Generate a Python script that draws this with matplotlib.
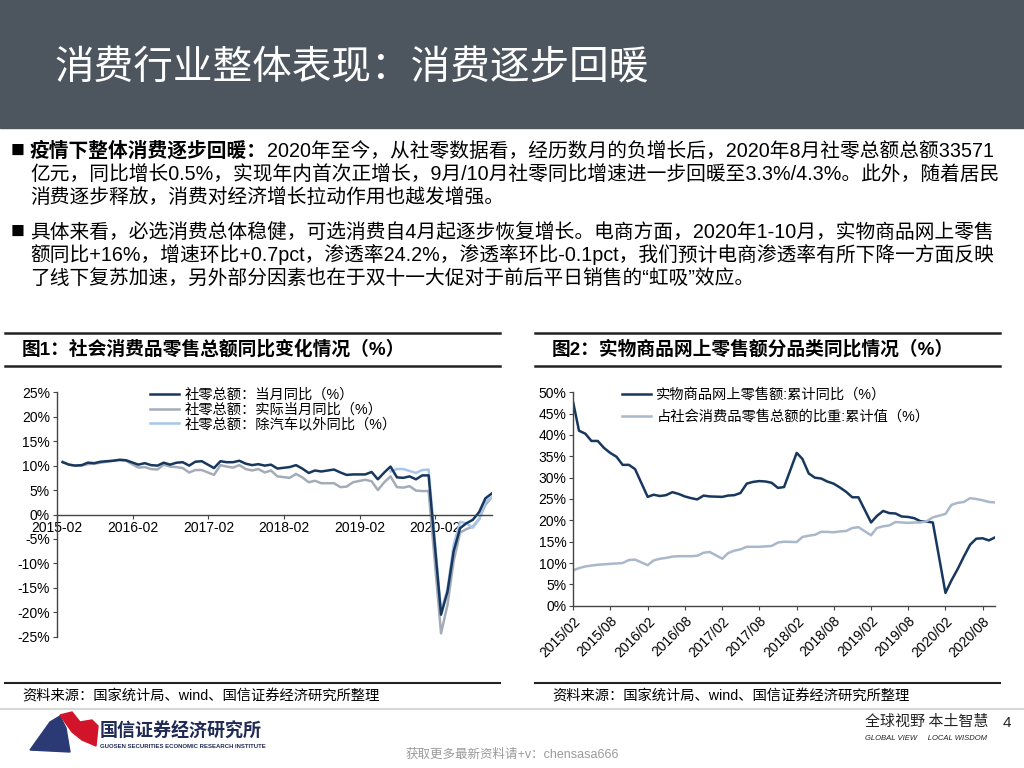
import numpy as np
import pandas as pd
import matplotlib
matplotlib.use('Agg')
import matplotlib.pyplot as plt
from matplotlib.patches import Rectangle, Polygon
from matplotlib.lines import Line2D
from matplotlib.ticker import FuncFormatter

plt.rcParams['font.family'] = ['Liberation Sans', 'Noto Sans CJK SC']
plt.rcParams['axes.unicode_minus'] = False

# ---- data (monthly, January not published) ----
months = [f'{y}-{m:02d}' for y in range(2015, 2020) for m in range(2, 13)] + \
         [f'2020-{m:02d}' for m in range(2, 11)]

retail_nominal = [10.7, 10.2, 10.0, 10.1, 10.6, 10.5, 10.8, 10.9, 11.0, 11.2, 11.1,
                  10.2, 10.5, 10.1, 10.0, 10.6, 10.2, 10.6, 10.7, 10.0, 10.8, 10.9,
                  9.5, 10.9, 10.7, 10.7, 11.0, 10.4, 10.1, 10.3, 10.0, 10.2, 9.4,
                  9.7, 10.1, 9.4, 8.5, 9.0, 8.8, 9.0, 9.2, 8.6, 8.1, 8.2,
                  8.2, 8.7, 7.2, 8.6, 9.8, 7.6, 7.5, 7.8, 7.2, 8.0, 8.0,
                  -20.5, -15.8, -7.5, -2.8, -1.8, -1.1, 0.5, 3.3, 4.3]
retail_real = [10.8, 10.2, 10.0, 10.0, 10.3, 10.4, 10.6, 10.8, 11.0, 11.1, 11.0,
               9.6, 9.7, 9.3, 9.2, 10.2, 9.8, 9.7, 9.5, 8.6, 9.1, 9.1,
               8.1, 10.1, 9.8, 9.6, 10.1, 9.3, 9.0, 9.3, 8.6, 9.0, 7.8,
               7.5, 8.3, 7.6, 6.6, 6.9, 6.4, 6.4, 6.4, 5.6, 5.7, 6.6,
               7.1, 6.8, 5.0, 6.6, 7.8, 5.6, 5.5, 5.8, 4.9, 4.8, 4.8,
               -24.3, -18.5, -9.5, -3.7, -3.0, -2.5, -0.9, 2.0, 3.5]
retail_ex_auto = [None] * 48 + \
                 [8.8, 9.3, 9.3, 8.9, 8.5, 9.1, 9.2,
                  -19.8, -15.3, -6.2, -1.5, -1.8, -2.7, -1.0, 2.6, 3.5]

online_yoy = [47.5, 41.0, 40.3, 38.6, 38.6, 37.0, 35.8, 34.9, 33.0, 33.0, 32.0,
              25.5, 26.0, 25.7, 25.9, 26.6, 26.2, 25.6, 25.2, 24.9, 25.8, 25.6,
              25.5, 25.8, 25.9, 26.4, 28.6, 29.0, 29.2, 29.1, 28.8, 27.6, 27.8,
              35.8, 34.4, 31.0, 30.0, 29.8, 29.1, 28.6, 27.7, 26.7, 25.4, 25.4,
              19.5, 21.0, 22.2, 21.7, 21.6, 20.9, 20.8, 20.5, 19.8, 19.7, 19.5,
              3.0, 5.9, 8.6, 11.5, 14.3, 15.7, 15.8, 15.3, 16.0]
online_share = [8.3, 8.8, 9.2, 9.4, 9.6, 9.7, 9.8, 9.9, 10.0, 10.7, 10.8,
                9.5, 10.6, 11.0, 11.2, 11.5, 11.6, 11.6, 11.6, 11.7, 12.4, 12.6,
                11.0, 12.3, 12.9, 13.2, 13.8, 13.8, 13.8, 13.9, 14.0, 14.8, 15.0,
                14.9, 16.1, 16.4, 16.6, 17.3, 17.3, 17.2, 17.4, 17.5, 18.2, 18.4,
                16.5, 18.2, 18.6, 18.8, 19.6, 19.5, 19.4, 19.5, 19.5, 19.8, 20.7,
                21.5, 23.6, 24.1, 24.3, 25.2, 25.0, 24.7, 24.3, 24.2]

left_labels = ['社零总额：当月同比（%）', '社零总额：实际当月同比（%）', '社零总额：除汽车以外同比（%）']
right_labels = ['实物商品网上零售额:累计同比（%）', '占社会消费品零售总额的比重:累计值（%）']

title = '消费行业整体表现：消费逐步回暖'
fig1_title = '图1：社会消费品零售总额同比变化情况（%）'
fig2_title = '图2：实物商品网上零售额分品类同比情况（%）'
source = '资料来源：国家统计局、wind、国信证券经济研究所整理'

dark = '#17375e'
gray = '#a3acb8'
light = '#a6c6ea'
share_col = '#a9b8ca'

W, H = 1024, 768
def fx(px):
    return px / W
def fy(py):
    return 1 - py / H

fig = plt.figure(figsize=(10.24, 7.68), dpi=100)
cjk = ['Liberation Sans', 'Noto Sans CJK SC']
body = 14.2

# header band
fig.patches.append(Rectangle((0, fy(128)), 1, 128 / H, transform=fig.transFigure,
                             color='#4d565e', zorder=0))
fig.text(fx(55), fy(68), title, color='white', fontsize=28.5, va='center',
         family=['Noto Sans CJK SC'])

# bullet paragraphs
r = fig.canvas.get_renderer()
fig.text(fx(11), fy(151), '■', fontsize=10, va='center', family=['Noto Sans CJK SC'])
tb = fig.text(fx(30), fy(151), '疫情下整体消费逐步回暖：', fontsize=body, va='center',
              fontweight='bold', family=cjk)
x1 = tb.get_window_extent(r).x1 / W
fig.text(x1, fy(151), '2020年至今，从社零数据看，经历数月的负增长后，2020年8月社零总额总额33571',
         fontsize=body, va='center', family=cjk)
fig.text(fx(30), fy(174), '亿元，同比增长0.5%，实现年内首次正增长，9月/10月社零同比增速进一步回暖至3.3%/4.3%。此外，随着居民',
         fontsize=body, va='center', family=cjk)
fig.text(fx(30), fy(197), '消费逐步释放，消费对经济增长拉动作用也越发增强。',
         fontsize=body, va='center', family=cjk)
fig.text(fx(11), fy(232), '■', fontsize=10, va='center', family=['Noto Sans CJK SC'])
fig.text(fx(30), fy(232), '具体来看，必选消费总体稳健，可选消费自4月起逐步恢复增长。电商方面，2020年1-10月，实物商品网上零售',
         fontsize=body, va='center', family=cjk)
fig.text(fx(30), fy(255), '额同比+16%，增速环比+0.7pct，渗透率24.2%，渗透率环比-0.1pct，我们预计电商渗透率有所下降一方面反映',
         fontsize=body, va='center', family=cjk)
fig.text(fx(30), fy(278), '了线下复苏加速，另外部分因素也在于双十一大促对于前后平日销售的“虹吸”效应。',
         fontsize=body, va='center', family=cjk)

# chart title bars and source bars
for x0, x1_, t in [(5, 500, fig1_title), (535, 1000, fig2_title)]:
    for yy in (333, 366):
        fig.add_artist(Line2D([fx(x0), fx(x1_)], [fy(yy), fy(yy)], color='#222222', lw=1.8,
                              transform=fig.transFigure))
    fig.add_artist(Line2D([fx(x0), fx(x1_)], [fy(683), fy(683)], color='#222222', lw=1.5,
                          transform=fig.transFigure))
    fig.text(fx(x0 + 17), fy(349.5), t, fontsize=13.5, fontweight='bold', va='center', family=cjk)
    fig.text(fx(x0 + 17), fy(697), source, fontsize=10.3, va='center', family=cjk)
fig.add_artist(Line2D([0, 1], [fy(709), fy(709)], color='#d8d8d8', lw=1.5,
                      transform=fig.transFigure))

# ---- left chart ----
dates_l = pd.to_datetime(months) + pd.offsets.MonthEnd(0)
ax1 = fig.add_axes([fx(57), fy(636.7), fx(492) - fx(57), (636.7 - 392.3) / H])
l2, = ax1.plot(dates_l, retail_real, color=gray, lw=1.8)
l3, = ax1.plot(dates_l, np.array(retail_ex_auto, dtype=float), color=light, lw=1.8)
l1, = ax1.plot(dates_l, retail_nominal, color=dark, lw=1.8)
ax1.set_ylim(-25, 25)
ax1.set_yticks(range(-25, 30, 5))
ax1.yaxis.set_major_formatter(FuncFormatter(lambda v, p: f'{v:.0f}%'))
ax1.set_xlim(pd.Timestamp('2015-02-01'), pd.Timestamp('2020-11-01'))
xt1 = pd.date_range('2015-02-01', '2020-02-01', freq='12MS')
ax1.set_xticks(xt1)
ax1.set_xticklabels([d.strftime('%Y-%m') for d in xt1])
ax1.spines['bottom'].set_position(('data', 0))
ax1.spines[['top', 'right']].set_visible(False)
for s in ('left', 'bottom'):
    ax1.spines[s].set_color('#444444')
    ax1.spines[s].set_linewidth(1.0)
ax1.tick_params(axis='both', labelsize=10, length=3, width=0.8, color='#444444', pad=2)
ax1.patch.set_alpha(0)
ax1.legend([l1, l2, l3], left_labels, loc='upper left', frameon=False,
           bbox_to_anchor=(fx(150), fy(388)), bbox_transform=fig.transFigure,
           prop={'family': cjk, 'size': 10.3}, handlelength=2.0, handletextpad=0.4,
           labelspacing=0.05, borderpad=0, borderaxespad=0)

# ---- right chart ----
dates_r = pd.to_datetime(months)
ax2 = fig.add_axes([fx(573.3), fy(605.7), (995 - 573.3) / W, (605.7 - 392.3) / H])
r1, = ax2.plot(dates_r, online_yoy, color=dark, lw=1.8)
r2, = ax2.plot(dates_r, online_share, color=share_col, lw=1.8)
ax2.set_ylim(0, 50)
ax2.set_yticks(range(0, 55, 5))
ax2.yaxis.set_major_formatter(FuncFormatter(lambda v, p: f'{v:.0f}%'))
ax2.set_xlim(pd.Timestamp('2015-02-01'), pd.Timestamp('2020-10-01'))
xt2 = pd.date_range('2015-02-01', '2020-08-01', freq='6MS')
ax2.set_xticks(xt2)
ax2.set_xticklabels([d.strftime('%Y/%m') for d in xt2], rotation=45, ha='right',
                    rotation_mode='anchor')
ax2.spines[['top', 'right']].set_visible(False)
for s in ('left', 'bottom'):
    ax2.spines[s].set_color('#444444')
    ax2.spines[s].set_linewidth(1.0)
ax2.tick_params(axis='both', labelsize=10, length=3, width=0.8, color='#444444', pad=2)
ax2.tick_params(axis='x', pad=3)
ax2.patch.set_alpha(0)
ax2.legend([r1, r2], right_labels, loc='upper left', frameon=False,
           bbox_to_anchor=(fx(622), fy(388)), bbox_transform=fig.transFigure,
           prop={'family': cjk, 'size': 10.3}, handlelength=2.0, handletextpad=0.4,
           labelspacing=0.55, borderpad=0, borderaxespad=0)

# ---- footer ----
navy_logo = Polygon([(fx(30), fy(750)), (fx(50), fy(722)), (fx(60), fy(716)),
                     (fx(66), fy(728)), (fx(70), fy(752))],
                    closed=True, transform=fig.transFigure, color='#2b3a75')
red_logo = Polygon([(fx(60), fy(715)), (fx(72), fy(712)), (fx(80), fy(722)),
                    (fx(92), fy(720)), (fx(98), fy(726)), (fx(96), fy(746)),
                    (fx(82), fy(740)), (fx(72), fy(732))],
                   closed=True, transform=fig.transFigure, color='#d2142b')
fig.patches.extend([navy_logo, red_logo])
fig.text(fx(100), fy(731), '国信证券经济研究所', fontsize=13, fontweight='bold',
         color='#1f2a55', va='center', family=['Noto Sans CJK SC'])
fig.text(fx(100), fy(746), 'GUOSEN SECURITIES ECONOMIC RESEARCH INSTITUTE', fontsize=4.3,
         fontweight='bold', color='#1f2a55', va='center')
fig.text(fx(865), fy(722), '全球视野 本土智慧', fontsize=10.8, va='center',
         family=['Noto Sans CJK SC'], color='#222222')
fig.text(fx(865), fy(738), 'GLOBAL VIEW     LOCAL WISDOM', fontsize=5.5, style='italic',
         va='center', color='#222222')
fig.text(fx(1003), fy(723), '4', fontsize=11, va='center', color='#222222')
fig.text(fx(512), fy(755), '获取更多最新资料请+v：chensasa666', fontsize=9, ha='center',
         va='center', color='#9a9a9a', family=cjk)

fig.savefig('out.png', dpi=100)
